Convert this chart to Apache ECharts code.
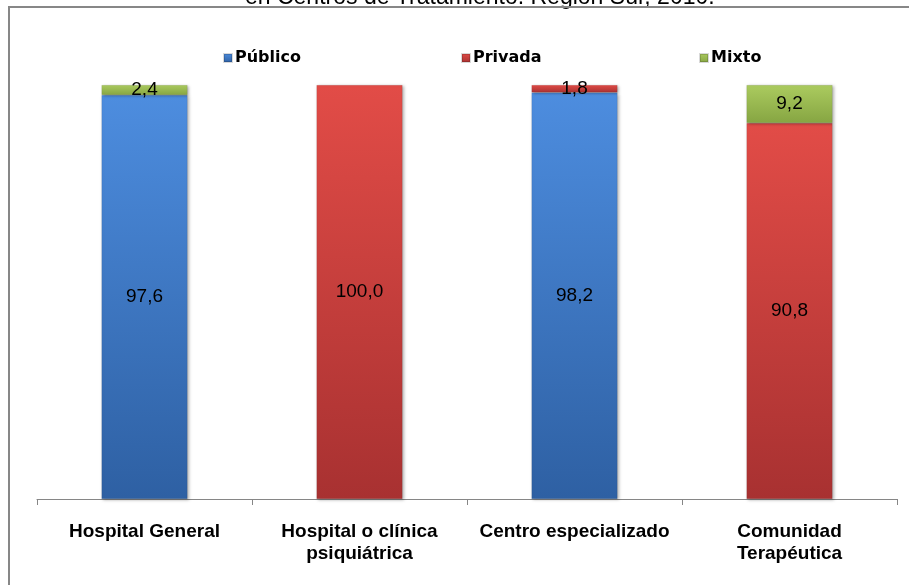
<!DOCTYPE html>
<html>
<head>
<meta charset="utf-8">
<title>Centros de Tratamiento. Región Sur, 2010</title>
<script src="https://cdn.jsdelivr.net/npm/echarts@6/dist/echarts.min.js"></script>
<style>
  html, body { margin: 0; padding: 0; background: #ffffff; }
  #chart { width: 909px; height: 585px; }
</style>
</head>
<body>
<div id="chart"></div>
<script>
// Type of dependency per treatment centre (percentages, stacked to 100)
const categories = ['Hospital General', 'Hospital o clínica\npsiquiátrica', 'Centro especializado', 'Comunidad\nTerapéutica'];
const publico = [97.6, null, 98.2, null];
const privada = [null, 100.0, 1.8, 90.8];
const mixto = [2.4, null, null, 9.2];
const titleLine = 'en Centros de Tratamiento. Región Sur, 2010.';

const FONT = '"Liberation Sans", Arial, sans-serif';

function grad(top, bottom) {
  return new echarts.graphic.LinearGradient(0, 0, 0, 1, [
    { offset: 0, color: top },
    { offset: 1, color: bottom }
  ]);
}

function fmt(p) {
  return p.value == null ? '' : Number(p.value).toFixed(1).replace('.', ',');
}

function makeSeries(name, data, top, bottom) {
  return {
    name: name,
    type: 'bar',
    stack: 'total',
    barWidth: 86,
    data: data,
    itemStyle: {
      color: grad(top, bottom),
      borderColor: 'rgba(0,0,0,0.15)',
      borderWidth: 0.5,
      shadowBlur: 3,
      shadowOffsetX: 1.5,
      shadowOffsetY: 1,
      shadowColor: 'rgba(0,0,0,0.3)'
    },
    label: {
      show: true,
      position: 'inside',
      formatter: fmt,
      color: '#000000',
      fontFamily: FONT,
      fontSize: 19
    }
  };
}

function legendAt(name, left) {
  return {
    data: [name],
    left: left,
    top: 45,
    itemWidth: 8,
    itemHeight: 8,
    itemGap: 0,
    icon: 'rect',
    selectedMode: false,
    textStyle: {
      fontFamily: '"DejaVu Sans", sans-serif',
      fontWeight: 'bold',
      fontSize: 16,
      color: '#000000',
      padding: [0, 0, 0, -2]
    }
  };
}

const chart = echarts.init(document.getElementById('chart'), null, { renderer: 'canvas' });

chart.setOption({
  animation: false,
  backgroundColor: '#ffffff',
  legend: [
    legendAt('Público', 218),
    legendAt('Privada', 456),
    legendAt('Mixto', 694)
  ],
  grid: { left: 37, right: 12, top: 85, bottom: 86, containLabel: false },
  xAxis: {
    type: 'category',
    data: categories,
    axisLine: { lineStyle: { color: '#868686', width: 1 } },
    axisTick: { show: true, alignWithLabel: false, length: 6, lineStyle: { color: '#868686' } },
    axisLabel: {
      margin: 22,
      color: '#000000',
      fontFamily: FONT,
      fontWeight: 'bold',
      fontSize: 19,
      lineHeight: 22,
      interval: 0
    }
  },
  yAxis: {
    type: 'value',
    min: 0,
    max: 100,
    show: false,
    splitLine: { show: false }
  },
  series: [
    makeSeries('Público', publico, '#4d8ddf', '#2e60a3'),
    makeSeries('Privada', privada, '#e24c47', '#a83131'),
    makeSeries('Mixto', mixto, '#abcb5f', '#86a542')
  ],
  graphic: [
    {
      type: 'text',
      left: 245,
      top: -14,
      z: 1,
      style: {
        text: titleLine,
        font: '23px ' + FONT,
        fill: '#000000'
      }
    },
    {
      type: 'rect',
      z: 10,
      shape: { x: 9, y: 7, width: 1000, height: 1000 },
      style: { fill: 'none', stroke: '#878787', lineWidth: 2 }
    }
  ]
});
</script>
</body>
</html>
